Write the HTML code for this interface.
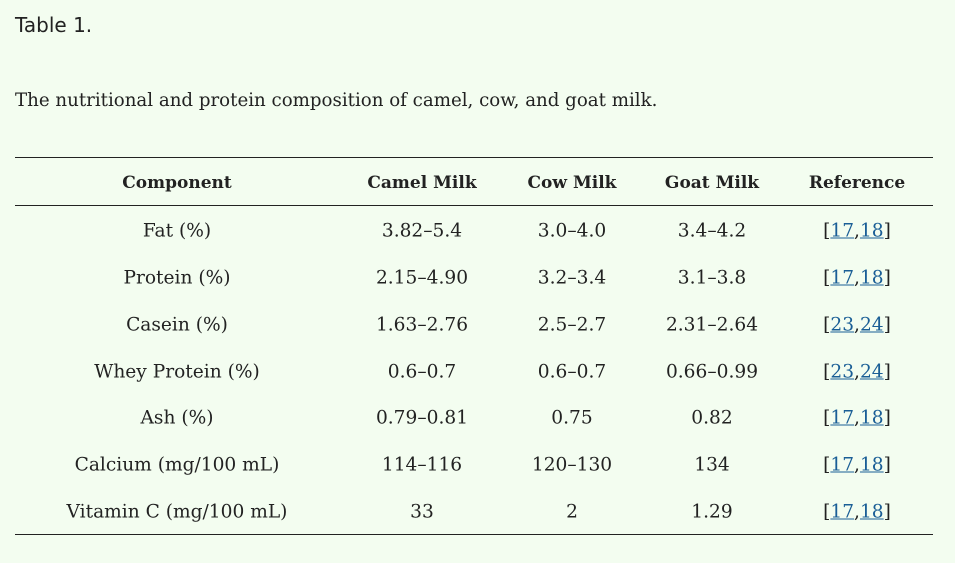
<!DOCTYPE html>
<html><head><meta charset="utf-8"><style>
body{margin:0;width:955px;height:563px;background:#f3fdf0;position:relative;overflow:hidden;color:#222;}
.t{position:absolute;white-space:nowrap;}
.s{font-family:"DejaVu Sans","Liberation Sans",sans-serif;font-size:20px;}
.f{font-family:"DejaVu Serif","Liberation Serif",serif;font-size:18.2px;}
.c{position:absolute;transform:translate(-50%,-50%);white-space:nowrap;font-family:"DejaVu Serif","Liberation Serif",serif;font-size:18.6px;}
.b{font-weight:bold;font-size:17px;}
.r{position:absolute;left:15px;width:918px;height:1px;background:#222;}
a{color:#1a5e96;text-decoration:underline;}
</style></head><body>
<div class="t s" style="left:15px;top:13px;">Table 1.</div>
<div class="t f" style="left:15px;top:90px;">The nutritional and protein composition of camel, cow, and goat milk.</div>
<div class="r" style="top:157px"></div>
<div class="r" style="top:205px"></div>
<div class="r" style="top:534px"></div>
<div class="c b" style="left:177px;top:183px">Component</div>
<div class="c b" style="left:422px;top:183px">Camel Milk</div>
<div class="c b" style="left:572px;top:183px">Cow Milk</div>
<div class="c b" style="left:712px;top:183px">Goat Milk</div>
<div class="c b" style="left:857px;top:183px">Reference</div>

<div class="c" style="left:177px;top:231px">Fat (%)</div><div class="c" style="left:422px;top:231px">3.82–5.4</div><div class="c" style="left:572px;top:231px">3.0–4.0</div><div class="c" style="left:712px;top:231px">3.4–4.2</div><div class="c" style="left:857px;top:231px">[<a>17</a>,<a>18</a>]</div>
<div class="c" style="left:177px;top:278px">Protein (%)</div><div class="c" style="left:422px;top:278px">2.15–4.90</div><div class="c" style="left:572px;top:278px">3.2–3.4</div><div class="c" style="left:712px;top:278px">3.1–3.8</div><div class="c" style="left:857px;top:278px">[<a>17</a>,<a>18</a>]</div>
<div class="c" style="left:177px;top:325px">Casein (%)</div><div class="c" style="left:422px;top:325px">1.63–2.76</div><div class="c" style="left:572px;top:325px">2.5–2.7</div><div class="c" style="left:712px;top:325px">2.31–2.64</div><div class="c" style="left:857px;top:325px">[<a>23</a>,<a>24</a>]</div>
<div class="c" style="left:177px;top:372px">Whey Protein (%)</div><div class="c" style="left:422px;top:372px">0.6–0.7</div><div class="c" style="left:572px;top:372px">0.6–0.7</div><div class="c" style="left:712px;top:372px">0.66–0.99</div><div class="c" style="left:857px;top:372px">[<a>23</a>,<a>24</a>]</div>
<div class="c" style="left:177px;top:418px">Ash (%)</div><div class="c" style="left:422px;top:418px">0.79–0.81</div><div class="c" style="left:572px;top:418px">0.75</div><div class="c" style="left:712px;top:418px">0.82</div><div class="c" style="left:857px;top:418px">[<a>17</a>,<a>18</a>]</div>
<div class="c" style="left:177px;top:465px">Calcium (mg/100 mL)</div><div class="c" style="left:422px;top:465px">114–116</div><div class="c" style="left:572px;top:465px">120–130</div><div class="c" style="left:712px;top:465px">134</div><div class="c" style="left:857px;top:465px">[<a>17</a>,<a>18</a>]</div>
<div class="c" style="left:177px;top:512px">Vitamin C (mg/100 mL)</div><div class="c" style="left:422px;top:512px">33</div><div class="c" style="left:572px;top:512px">2</div><div class="c" style="left:712px;top:512px">1.29</div><div class="c" style="left:857px;top:512px">[<a>17</a>,<a>18</a>]</div>
</body></html>
